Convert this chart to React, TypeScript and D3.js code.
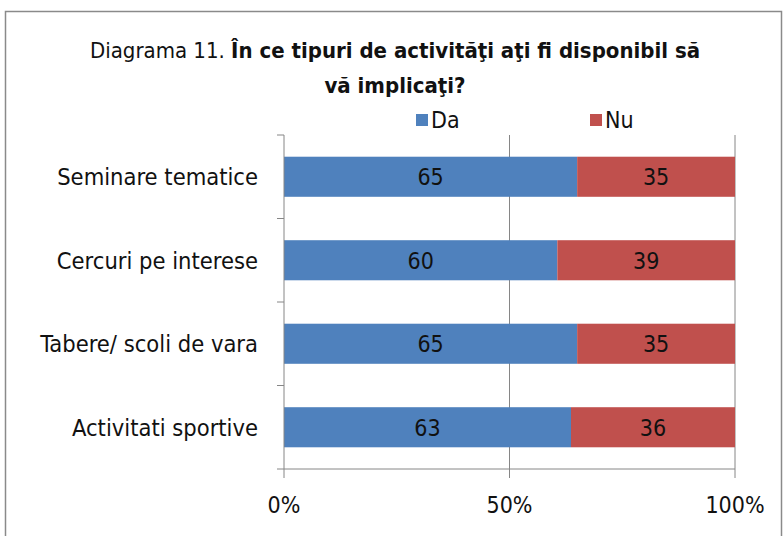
import React, { useEffect, useRef } from 'react';
import * as d3 from 'd3';

const categories = ['Seminare tematice', 'Cercuri pe interese', 'Tabere/ scoli de vara', 'Activitati sportive'];
const daValues = [65, 60, 65, 63];
const nuValues = [35, 39, 35, 36];
const seriesNames = ['Da', 'Nu'];
const seriesColors = ['#4F81BD', '#C0504D'];
const xTicks = [0, 0.5, 1];

const W = 784;
const H = 536;
const FONT = "'Liberation Sans Narrow', 'DejaVu Sans Condensed', 'Open Sans', sans-serif";

export default function App() {
  const ref = useRef<SVGSVGElement>(null);

  useEffect(() => {
    const svg = d3.select(ref.current);
    svg.selectAll('*').remove();

    const margin = { top: 135, left: 284, right: 49, bottom: 67 };
    const x = d3.scaleLinear().domain([0, 1]).range([margin.left, W - margin.right]);
    const y = d3.scaleBand().domain(categories).range([margin.top, H - margin.bottom]).paddingInner(0.52).paddingOuter(0.26);
    const band = d3.scaleBand().domain(categories).range([margin.top, H - margin.bottom]);

    // chart frame
    svg.append('rect')
      .attr('x', 5.5).attr('y', 11.5)
      .attr('width', 776).attr('height', 540)
      .attr('fill', 'white').attr('stroke', '#8a8a8a').attr('stroke-width', 1.5);

    // gridlines
    svg.selectAll('.grid')
      .data(xTicks.slice(1))
      .enter()
      .append('line')
      .attr('x1', (d) => x(d)).attr('x2', (d) => x(d))
      .attr('y1', margin.top).attr('y2', H - margin.bottom + 9)
      .attr('stroke', '#868686');

    // stacked rows, shown as share of each row's total
    const rows = categories.map((c, i) => {
      const total = daValues[i] + nuValues[i];
      return { cat: c, vals: [daValues[i], nuValues[i]], total };
    });

    rows.forEach((r) => {
      let acc = 0;
      r.vals.forEach((v, j) => {
        const x0 = x(acc / r.total);
        const x1 = x((acc + v) / r.total);
        acc += v;
        svg.append('rect')
          .attr('x', x0).attr('y', y(r.cat)!)
          .attr('width', x1 - x0).attr('height', y.bandwidth())
          .attr('fill', seriesColors[j]);
        svg.append('text')
          .attr('x', (x0 + x1) / 2)
          .attr('y', y(r.cat)! + y.bandwidth() / 2)
          .attr('dy', '0.36em')
          .attr('text-anchor', 'middle')
          .attr('font-family', FONT)
          .attr('font-size', 23)
          .attr('fill', '#111')
          .text(v);
      });
    });

    // axes lines
    const axisColor = '#868686';
    svg.append('line')
      .attr('x1', margin.left).attr('x2', margin.left)
      .attr('y1', margin.top).attr('y2', H - margin.bottom + 9)
      .attr('stroke', axisColor);
    svg.append('line')
      .attr('x1', margin.left).attr('x2', W - margin.right)
      .attr('y1', H - margin.bottom).attr('y2', H - margin.bottom)
      .attr('stroke', axisColor);

    // category tick marks
    const bounds = categories.map((c) => band(c)!).concat([H - margin.bottom]);
    svg.selectAll('.ctick')
      .data(bounds)
      .enter()
      .append('line')
      .attr('x1', margin.left - 7).attr('x2', margin.left)
      .attr('y1', (d) => d).attr('y2', (d) => d)
      .attr('stroke', axisColor);

    // category labels
    svg.selectAll('.clabel')
      .data(categories)
      .enter()
      .append('text')
      .attr('x', 258)
      .attr('y', (d) => band(d)! + band.bandwidth() / 2)
      .attr('dy', '0.36em')
      .attr('text-anchor', 'end')
      .attr('font-family', FONT)
      .attr('font-size', 23.5)
      .attr('fill', '#111')
      .text((d) => d);

    // x tick labels
    svg.selectAll('.xlabel')
      .data(xTicks)
      .enter()
      .append('text')
      .attr('x', (d) => x(d))
      .attr('y', 513)
      .attr('text-anchor', 'middle')
      .attr('font-family', FONT)
      .attr('font-size', 23)
      .attr('fill', '#111')
      .text((d) => d3.format('.0%')(d));

    // title
    const title = svg.append('text')
      .attr('text-anchor', 'middle')
      .attr('font-family', FONT)
      .attr('font-size', 22)
      .attr('fill', '#111');
    const l1 = title.append('tspan').attr('x', 395).attr('y', 58);
    l1.append('tspan').text('Diagrama 11. ');
    l1.append('tspan').attr('font-weight', 'bold').text('În ce tipuri de activităţi aţi fi disponibil  să');
    title.append('tspan').attr('x', 395).attr('y', 93).attr('font-weight', 'bold').text('vă implicaţi?');

    // legend
    const legendX = [416, 590];
    seriesNames.forEach((s, i) => {
      svg.append('rect')
        .attr('x', legendX[i]).attr('y', 114)
        .attr('width', 12).attr('height', 12)
        .attr('fill', seriesColors[i]);
      svg.append('text')
        .attr('x', legendX[i] + 15).attr('y', 120)
        .attr('dy', '0.36em')
        .attr('font-family', FONT)
        .attr('font-size', 23)
        .attr('fill', '#111')
        .text(s);
    });
  }, []);

  return (
    <svg ref={ref} width={W} height={H} style={{ position: 'absolute', left: 0, top: 0 }} />
  );
}
